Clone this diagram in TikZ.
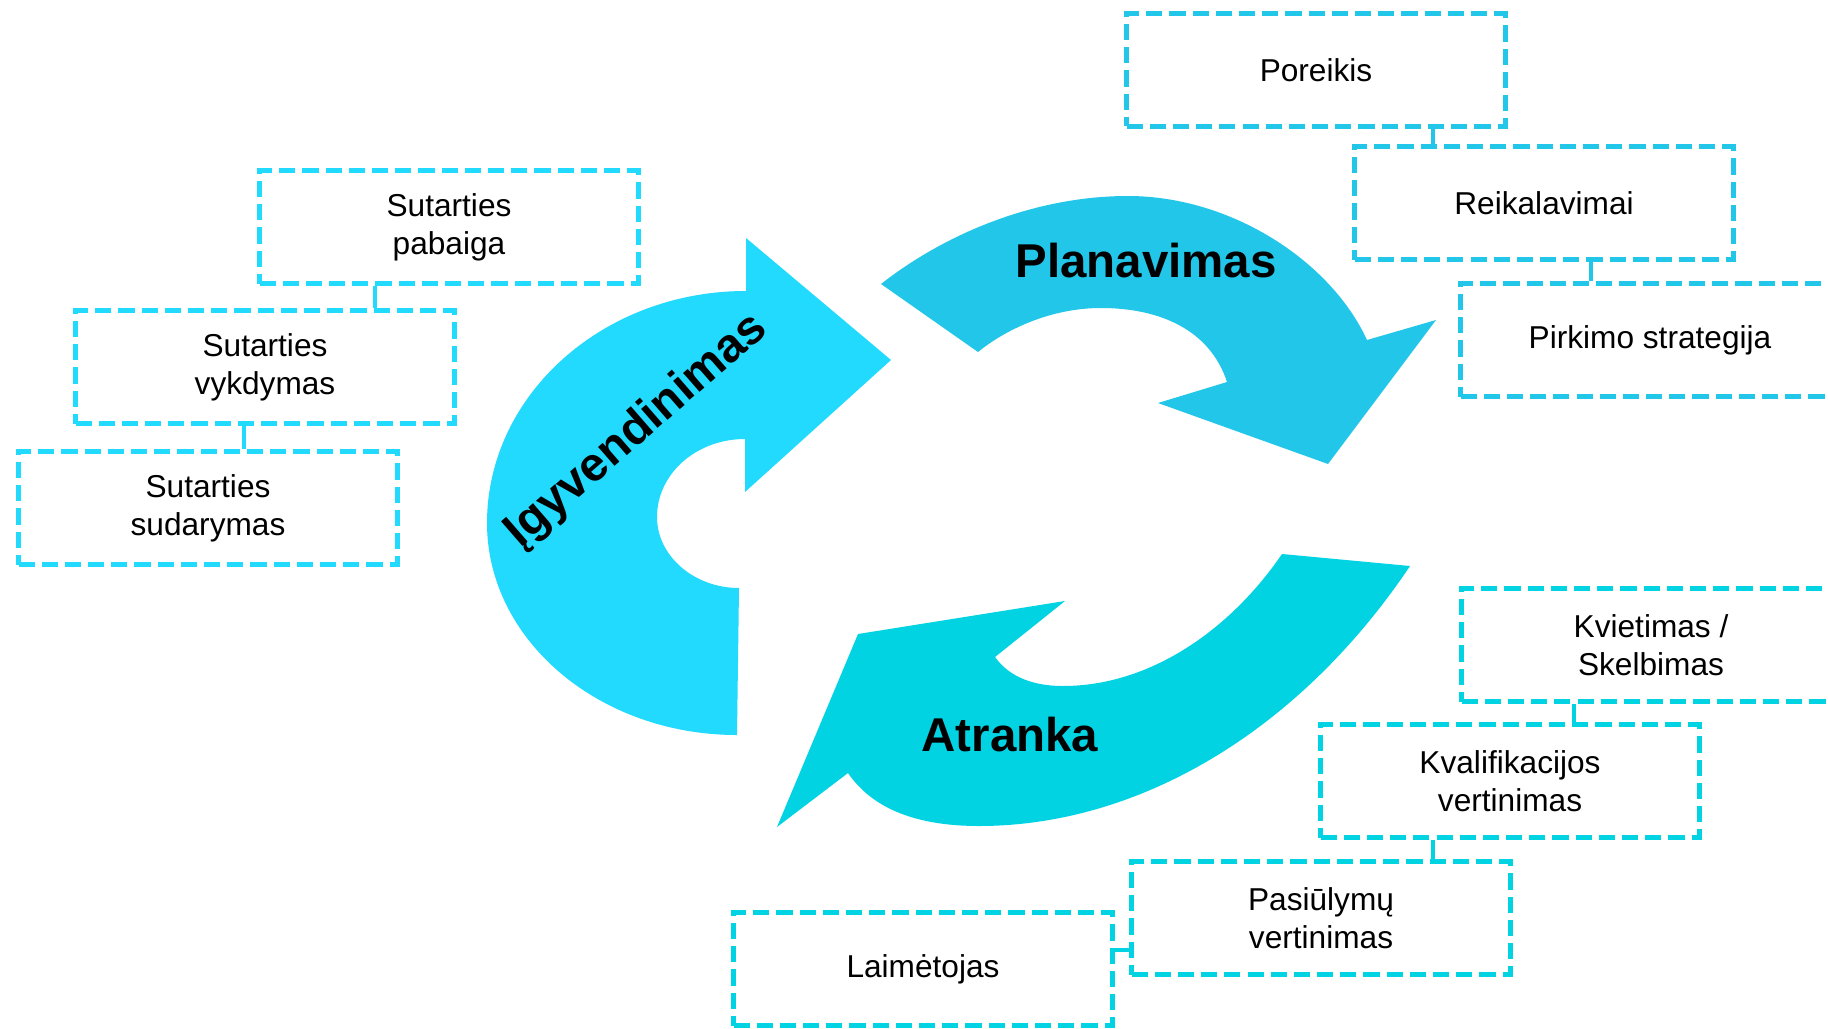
\documentclass[tikz,border=0pt]{standalone}
\usepackage{fontspec}
\setmainfont{Liberation Sans}
\usepackage{tikz}
\definecolor{igyv}{RGB}{34,217,254}
\definecolor{plan}{RGB}{34,198,233}
\definecolor{atr}{RGB}{2,211,227}

\begin{document}
\begin{tikzpicture}[x=1cm,y=-1cm,font=\fontsize{9}{10.9}\selectfont,
  box/.style={draw=#1,line width=1.35pt,dash pattern=on 4.6pt off 2pt,align=center,inner sep=0pt,minimum width=3.79cm,minimum height=1.13cm},
  link/.style={draw=#1,line width=1.35pt},
  phase/.style={font=\fontsize{13.5}{16}\selectfont\bfseries}]
  \useasboundingbox (0,0) rectangle (18.28,10.28);
  % the three curved arrows
  \fill[igyv] (7.37,7.35) .. controls (5.99,7.35) and (4.87,6.40) .. (4.87,5.23)
    .. controls (4.87,3.95) and (6.03,2.91) .. (7.46,2.91)
    -- (7.46,2.38) -- (8.91,3.60) -- (7.45,4.92) -- (7.45,4.39)
    .. controls (6.96,4.39) and (6.57,4.74) .. (6.57,5.17)
    .. controls (6.57,5.56) and (6.94,5.88) .. (7.39,5.88) -- cycle;
  \fill[plan] (8.81,2.84) .. controls (9.50,2.30) and (10.40,1.96) .. (11.28,1.96)
    .. controls (12.30,1.96) and (13.30,2.60) .. (13.67,3.40)
    -- (14.36,3.20) -- (13.28,4.64) -- (11.58,4.03) -- (12.27,3.82)
    .. controls (12.10,3.30) and (11.60,3.08) .. (11.01,3.08)
    .. controls (10.50,3.08) and (10.05,3.30) .. (9.78,3.52) -- cycle;
  \fill[atr] (14.10,5.66) .. controls (13.00,7.30) and (11.40,8.26) .. (9.79,8.26)
    .. controls (9.10,8.26) and (8.70,8.05) .. (8.48,7.73)
    -- (7.77,8.27) -- (8.58,6.34) -- (10.65,6.01) -- (9.95,6.57)
    .. controls (10.10,6.78) and (10.35,6.86) .. (10.63,6.86)
    .. controls (11.50,6.86) and (12.30,6.30) .. (12.82,5.54) -- cycle;
  \node[phase] (planav) at (11.46,2.61) {Planavimas};
  \node[phase] (atranka) at (10.10,7.35) {Atranka};
  \node[phase,rotate=41] (igyvend) at (6.37,4.31) {Įgyvendinimas};
  % steps
  \node[box=plan] (poreikis) at (13.16,0.70) {Poreikis};
  \node[box=plan] (reikal) at (15.44,2.03) {Reikalavimai};
  \node[box=plan] (strateg) at (16.50,3.40) {Pirkimo strategija};
  \node[box=igyv] (pabaiga) at (4.49,2.27) {Sutarties\\pabaiga};
  \node[box=igyv] (vykdym) at (2.65,3.67) {Sutarties\\vykdymas};
  \node[box=igyv] (sudar) at (2.08,5.08) {Sutarties\\sudarymas};
  \node[box=atr] (kviet) at (16.51,6.45) {Kvietimas /\\Skelbimas};
  \node[box=atr] (kvalif) at (15.10,7.81) {Kvalifikacijos\\vertinimas};
  \node[box=atr] (pasiul) at (13.21,9.18) {Pasiūlymų\\vertinimas};
  \node[box=atr] (laimet) at (9.23,9.69) {Laimėtojas};
  \draw[link=plan] (poreikis.south -| 14.33,0) -- (reikal.north -| 14.33,0);
  \draw[link=plan] (reikal.south -| 15.91,0) -- (strateg.north -| 15.91,0);
  \draw[link=igyv] (pabaiga.south -| 3.75,0) -- (vykdym.north -| 3.75,0);
  \draw[link=igyv] (vykdym.south -| 2.44,0) -- (sudar.north -| 2.44,0);
  \draw[link=atr] (kviet.south -| 15.74,0) -- (kvalif.north -| 15.74,0);
  \draw[link=atr] (kvalif.south -| 14.33,0) -- (pasiul.north -| 14.33,0);
  \draw[link=atr] (laimet.east |- 0,9.50) -- (pasiul.west |- 0,9.50);
\end{tikzpicture}
\end{document}
